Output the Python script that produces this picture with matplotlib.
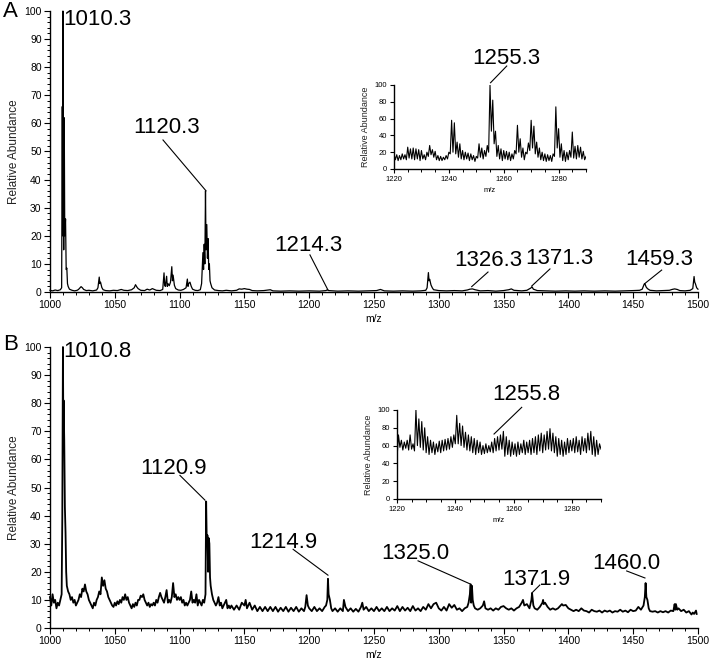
import matplotlib
matplotlib.use("Agg")
import matplotlib.pyplot as plt

plt.rcParams['font.family'] = ['Liberation Sans', 'DejaVu Sans']

# main spectrum A (m/z, relative abundance)
spec_a = [
    (1000, 0.6), (1002, 0.4), (1004, 0.7), (1006, 0.5), (1008, 0.8), (1009, 1.5), (1009.5, 66), (1009.8, 20),
    (1010, 100), (1010.3, 40), (1010.6, 15), (1011, 62), (1011.4, 20), (1012, 26), (1012.5, 8), (1013, 8.5),
    (1013.5, 3), (1014, 2), (1015, 1), (1017, 0.6), (1019, 0.4), (1021, 0.6), (1022, 0.9), (1024, 1.9),
    (1025, 1.5), (1026, 0.9), (1028, 0.5), (1030, 0.6), (1033, 0.4), (1036, 0.7), (1037, 1.5), (1038, 5.3),
    (1038.5, 3), (1039, 3.5), (1040, 1.6), (1041, 0.8), (1043, 0.5), (1046, 0.4), (1049, 0.6), (1052, 0.5),
    (1055, 0.9), (1057, 0.6), (1060, 0.5), (1063, 0.8), (1065, 1.5), (1066, 2.6), (1067, 1.8), (1068, 1.2),
    (1070, 0.6), (1073, 0.5), (1075, 1.0), (1077, 0.7), (1079, 1.2), (1080, 1.0), (1082, 0.6), (1085, 0.5),
    (1087, 0.9), (1088, 6.8), (1088.5, 2.5), (1089, 2), (1090, 5.6), (1090.5, 2), (1091, 3), (1092, 2.2),
    (1093, 3.5), (1094, 9), (1094.5, 4), (1095, 6), (1096, 2.4), (1097, 1.2), (1099, 0.7), (1101, 0.6),
    (1103, 0.9), (1105, 1.5), (1106, 4.6), (1106.5, 2), (1107, 3), (1108, 3.5), (1109, 2), (1110, 1),
    (1112, 0.6), (1114, 0.5), (1116, 0.8), (1117, 3), (1118, 14), (1118.5, 8), (1119, 17), (1119.5, 10),
    (1120, 36), (1120.4, 15), (1121, 24), (1121.5, 12), (1122, 19), (1122.5, 8), (1123, 10), (1123.5, 4),
    (1124, 3), (1125, 1.5), (1127, 0.7), (1130, 0.5), (1133, 0.4), (1136, 0.6), (1140, 0.4), (1144, 0.6),
    (1146, 1.1), (1148, 1.0), (1150, 1.2), (1152, 1.0), (1154, 0.9), (1156, 0.5), (1160, 0.4), (1165, 0.5),
    (1170, 0.8), (1172, 0.4), (1178, 0.3), (1185, 0.4), (1192, 0.3), (1200, 0.4), (1208, 0.3), (1213, 0.5),
    (1214, 0.8), (1215, 0.5), (1222, 0.3), (1230, 0.4), (1238, 0.3), (1245, 0.4), (1252, 0.5), (1255, 0.9),
    (1258, 0.4), (1265, 0.3), (1272, 0.4), (1280, 0.3), (1286, 0.4), (1290, 0.6), (1291, 1.5), (1292, 6.9),
    (1292.5, 4), (1293, 4.5), (1294, 2.5), (1295, 1.5), (1296, 0.8), (1300, 0.5), (1306, 0.4), (1312, 0.5),
    (1318, 0.4), (1322, 0.7), (1324, 1.0), (1326, 1.1), (1328, 0.8), (1332, 0.4), (1338, 0.5), (1344, 0.3),
    (1350, 0.5), (1354, 0.8), (1356, 1.1), (1358, 0.6), (1364, 0.4), (1368, 0.6), (1371, 1.4), (1372, 1.8),
    (1373, 1.0), (1376, 0.5), (1382, 0.4), (1390, 0.3), (1398, 0.4), (1405, 0.3), (1412, 0.4), (1420, 0.3),
    (1428, 0.4), (1436, 0.3), (1444, 0.4), (1450, 0.5), (1455, 0.6), (1457, 1.0), (1458.5, 2.8), (1459, 3.0),
    (1460, 1.8), (1461, 1.2), (1463, 0.6), (1468, 0.4), (1474, 0.5), (1478, 0.6), (1480, 0.9), (1482, 1.1),
    (1484, 0.9), (1486, 0.5), (1490, 0.4), (1494, 0.6), (1496, 1.2), (1497, 5.5), (1497.5, 3.5), (1498, 3),
    (1499, 1.5), (1500, 1.0),
]

# main spectrum B
spec_b = [
    (1000, 11), (1001, 8), (1002, 12), (1003, 9), (1004, 10), (1005, 7), (1006, 9), (1007, 8), (1008, 10),
    (1009, 12), (1009.5, 39), (1010, 100), (1010.3, 70), (1010.5, 81), (1011, 67), (1011.5, 43), (1012, 34),
    (1012.5, 20), (1013, 15), (1014, 13), (1015, 12), (1016, 10), (1017, 11), (1018, 9), (1019, 10), (1020, 8),
    (1021, 9), (1022, 10), (1023, 12), (1024, 11), (1025, 14), (1026, 13), (1027, 15.5), (1028, 13), (1029, 12),
    (1030, 10), (1031, 9), (1032, 8), (1033, 7), (1034, 9), (1035, 8), (1036, 10), (1037, 11), (1038, 13),
    (1039, 12), (1040, 18), (1041, 15), (1042, 17), (1043, 14), (1044, 13), (1045, 11), (1046, 10), (1047, 9),
    (1048, 8), (1049, 7.5), (1050, 9), (1051, 8), (1052, 9.5), (1053, 8.5), (1054, 10), (1055, 9), (1056, 11),
    (1057, 10), (1058, 12), (1059, 10), (1060, 11), (1061, 9), (1062, 8), (1063, 7), (1064, 8.5), (1065, 7.5),
    (1066, 9), (1067, 8), (1068, 10), (1069, 10), (1070, 11.5), (1071, 11), (1072, 12), (1073, 10), (1074, 9),
    (1075, 8), (1076, 9), (1077, 7.5), (1078, 8.5), (1079, 8), (1080, 9), (1081, 8), (1082, 10), (1083, 9),
    (1084, 11), (1085, 12.5), (1086, 11), (1087, 10), (1088, 9), (1089, 11), (1090, 13.5), (1091, 9), (1092, 10),
    (1093, 9), (1094, 11), (1095, 16), (1096, 11), (1097, 12), (1098, 10), (1099, 11), (1100, 10), (1101, 11),
    (1102, 9), (1103, 10), (1104, 8), (1105, 9), (1106, 8), (1107, 9), (1108, 10), (1109, 13), (1110, 9),
    (1111, 10), (1112, 9), (1113, 12), (1114, 8), (1115, 10), (1116, 9), (1117, 8), (1118, 10), (1119, 9),
    (1120, 12), (1120.5, 45), (1121, 30), (1121.5, 33), (1122, 20), (1122.5, 32), (1123, 30), (1123.5, 18),
    (1124, 15), (1125, 12), (1126, 10), (1127, 9), (1128, 8), (1129, 9), (1130, 11), (1131, 8), (1132, 9),
    (1133, 7), (1134, 8), (1135, 9), (1136, 10), (1137, 7), (1138, 8), (1139, 7), (1140, 8),
    (1142, 6.5), (1144, 8), (1146, 6.5), (1148, 9), (1150, 8), (1151, 10), (1152, 7), (1154, 9), (1156, 6.5),
    (1158, 8), (1160, 6), (1162, 7.5), (1164, 6), (1166, 7.5), (1168, 6), (1170, 7.5), (1172, 6), (1174, 7.5),
    (1176, 5.8), (1178, 7.2), (1180, 6), (1182, 7.5), (1184, 5.8), (1186, 7.2), (1188, 6), (1190, 7.5),
    (1192, 5.8), (1194, 7), (1196, 6), (1197, 7.5), (1198, 11.7), (1199, 8), (1200, 7), (1202, 6), (1204, 7.5),
    (1206, 6), (1208, 7), (1210, 6), (1212, 7.5), (1213, 8), (1214, 10), (1214.5, 17.5), (1215, 12), (1216, 10),
    (1217, 7), (1218, 6), (1220, 7), (1222, 5.8), (1224, 7), (1226, 6), (1226.8, 10), (1228, 7.5), (1230, 6),
    (1232, 7), (1234, 5.8), (1236, 6.8), (1238, 5.8), (1240, 7.5), (1241, 9), (1242, 6.5), (1244, 7.5),
    (1246, 6), (1248, 7), (1250, 6), (1252, 7.5), (1254, 6), (1256, 7), (1258, 6), (1260, 7.5), (1262, 6),
    (1264, 7), (1266, 6.2), (1268, 7.8), (1270, 6), (1272, 7.5), (1274, 6.2), (1276, 7.2), (1278, 6),
    (1280, 7.8), (1282, 6.2), (1284, 7), (1286, 6), (1288, 7.5), (1290, 6.5), (1292, 8.5), (1294, 7),
    (1296, 8.5), (1298, 9), (1300, 7), (1302, 6.2), (1304, 7.5), (1306, 6.2), (1308, 8.5), (1310, 7.2),
    (1312, 8.2), (1314, 6.5), (1316, 7), (1318, 6), (1320, 7), (1322, 7.5), (1323, 9), (1324, 12),
    (1324.6, 15.5), (1325, 9), (1325.6, 15), (1326.2, 10), (1327, 8), (1328, 7), (1330, 6.5), (1332, 7),
    (1334, 8), (1335, 9.5), (1336, 7), (1338, 6.5), (1340, 7), (1342, 6.2), (1344, 7), (1346, 6.5),
    (1348, 7.5), (1350, 7.8), (1352, 7), (1354, 6.5), (1356, 7), (1358, 6.2), (1360, 7), (1362, 7.5),
    (1364, 9), (1365, 10), (1366, 8), (1368, 8.5), (1370, 7), (1371.5, 10), (1372, 12.4), (1373, 8),
    (1374, 7), (1376, 6.5), (1378, 7.5), (1380, 9), (1380.5, 10), (1381, 8.5), (1382, 9), (1384, 7.5),
    (1386, 6.5), (1388, 7), (1390, 6.5), (1392, 7), (1394, 8), (1395, 8.5), (1396, 8), (1398, 8.2),
    (1400, 7), (1402, 6.5), (1404, 6), (1406, 6.5), (1408, 6), (1410, 7), (1412, 6.2), (1414, 6),
    (1416, 5.5), (1418, 6.5), (1420, 6), (1422, 5.8), (1424, 6.2), (1426, 5.5), (1428, 6.2), (1430, 5.8),
    (1432, 6.2), (1434, 5.5), (1436, 6), (1438, 5.8), (1440, 6.5), (1442, 5.8), (1444, 6.2), (1446, 5.6),
    (1448, 6.5), (1450, 6), (1452, 6.2), (1454, 7.5), (1456, 6.5), (1458, 8), (1459, 11), (1459.6, 16),
    (1460.2, 11), (1461, 10), (1462, 7), (1463, 6), (1465, 5.8), (1467, 6), (1469, 5.5), (1471, 6),
    (1473, 5.6), (1475, 6), (1477, 5.5), (1479, 6.2), (1481, 6), (1482, 8.5), (1482.5, 6.5), (1483, 8.5),
    (1484, 6.5), (1485, 7), (1487, 6), (1489, 6.5), (1491, 5.5), (1493, 6), (1495, 4.8), (1496, 5.5),
    (1497, 5), (1498.5, 6.2), (1499, 5),
]

# zoomed insets 1220-1290
inset_a = [
    (1220, 18), (1220.5, 11), (1221, 17), (1221.5, 10), (1222, 16), (1222.5, 11), (1223, 18), (1223.5, 12),
    (1224, 17), (1224.5, 11), (1225, 26), (1225.5, 13), (1226, 24), (1226.5, 12), (1227, 25), (1227.5, 11),
    (1228, 24), (1228.5, 12), (1229, 23), (1229.5, 10), (1230, 22), (1230.5, 12), (1231, 17), (1231.5, 11),
    (1232, 20), (1232.5, 15), (1233, 28), (1233.5, 17), (1234, 23), (1234.5, 14), (1235, 21), (1235.5, 11),
    (1236, 16), (1236.5, 10), (1237, 15), (1237.5, 10), (1238, 14), (1238.5, 11), (1239, 16), (1239.5, 12),
    (1240, 20), (1240.5, 18), (1241, 58), (1241.5, 20), (1242, 55), (1242.5, 18), (1243, 32), (1243.5, 14),
    (1244, 30), (1244.5, 12), (1245, 22), (1245.5, 11), (1246, 20), (1246.5, 12), (1247, 19), (1247.5, 10),
    (1248, 18), (1248.5, 11), (1249, 16), (1249.5, 9), (1250, 15), (1250.5, 13), (1251, 30), (1251.5, 14),
    (1252, 25), (1252.5, 12), (1253, 22), (1253.5, 15), (1254, 28), (1254.5, 20), (1255, 100), (1255.5, 45),
    (1256, 82), (1256.5, 30), (1257, 45), (1257.5, 15), (1258, 28), (1258.5, 12), (1259, 24), (1259.5, 10),
    (1260, 22), (1260.5, 12), (1261, 21), (1261.5, 11), (1262, 20), (1262.5, 10), (1263, 18), (1263.5, 12),
    (1264, 22), (1264.5, 18), (1265, 52), (1265.5, 20), (1266, 36), (1266.5, 14), (1267, 25), (1267.5, 11),
    (1268, 20), (1268.5, 18), (1269, 31), (1269.5, 22), (1270, 58), (1270.5, 25), (1271, 51), (1271.5, 18),
    (1272, 32), (1272.5, 14), (1273, 25), (1273.5, 11), (1274, 20), (1274.5, 10), (1275, 18), (1275.5, 9),
    (1276, 17), (1276.5, 10), (1277, 16), (1277.5, 9), (1278, 18), (1278.5, 15), (1279, 74), (1279.5, 25),
    (1280, 48), (1280.5, 14), (1281, 30), (1281.5, 10), (1282, 22), (1282.5, 9), (1283, 20), (1283.5, 11),
    (1284, 22), (1284.5, 14), (1285, 44), (1285.5, 13), (1286, 27), (1286.5, 12), (1287, 28), (1287.5, 14),
    (1288, 26), (1288.5, 12), (1289, 21), (1289.5, 11), (1290, 15),
]

inset_b = [
    (1220, 45), (1220.5, 72), (1221, 58), (1221.5, 66), (1222, 55), (1222.5, 64), (1223, 57), (1223.5, 66),
    (1224, 55), (1224.5, 72), (1225, 56), (1225.5, 62), (1226, 54), (1226.5, 100), (1227, 60), (1227.5, 90),
    (1228, 58), (1228.5, 87), (1229, 55), (1229.5, 80), (1230, 52), (1230.5, 70), (1231, 50), (1231.5, 66),
    (1232, 52), (1232.5, 64), (1233, 50), (1233.5, 62), (1234, 53), (1234.5, 65), (1235, 52), (1235.5, 66),
    (1236, 54), (1236.5, 67), (1237, 55), (1237.5, 68), (1238, 56), (1238.5, 70), (1239, 58), (1239.5, 72),
    (1240, 62), (1240.5, 94), (1241, 62), (1241.5, 85), (1242, 60), (1242.5, 82), (1243, 58), (1243.5, 75),
    (1244, 55), (1244.5, 72), (1245, 54), (1245.5, 70), (1246, 52), (1246.5, 68), (1247, 50), (1247.5, 66),
    (1248, 52), (1248.5, 64), (1249, 50), (1249.5, 60), (1250, 51), (1250.5, 62), (1251, 52), (1251.5, 60),
    (1252, 53), (1252.5, 64), (1253, 52), (1253.5, 68), (1254, 54), (1254.5, 70), (1255, 55), (1255.5, 72),
    (1256, 56), (1256.5, 76), (1257, 48), (1257.5, 70), (1258, 50), (1258.5, 66), (1259, 48), (1259.5, 64),
    (1260, 50), (1260.5, 62), (1261, 48), (1261.5, 64), (1262, 50), (1262.5, 62), (1263, 52), (1263.5, 66),
    (1264, 50), (1264.5, 64), (1265, 52), (1265.5, 66), (1266, 50), (1266.5, 68), (1267, 52), (1267.5, 70),
    (1268, 50), (1268.5, 72), (1269, 54), (1269.5, 74), (1270, 52), (1270.5, 72), (1271, 55), (1271.5, 76),
    (1272, 56), (1272.5, 79), (1273, 54), (1273.5, 74), (1274, 52), (1274.5, 70), (1275, 48), (1275.5, 68),
    (1276, 50), (1276.5, 66), (1277, 48), (1277.5, 64), (1278, 50), (1278.5, 68), (1279, 52), (1279.5, 66),
    (1280, 54), (1280.5, 68), (1281, 52), (1281.5, 70), (1282, 53), (1282.5, 66), (1283, 50), (1283.5, 70),
    (1284, 54), (1284.5, 68), (1285, 52), (1285.5, 74), (1286, 55), (1286.5, 76), (1287, 50), (1287.5, 70),
    (1288, 48), (1288.5, 66), (1289, 50), (1289.5, 62), (1290, 56),
]

# peak labels: text, text position, leader line start, leader line end (None = no line)
labels_a = [
    ("1010.3", (1010, 98), None, None),
    ("1120.3", (1089.9, 59.4), (1087.2, 54.1), (1120.4, 36)),
    ("1214.3", (1199.5, 17.4), (1200.6, 13.2), (1214.5, 0.7)),
    ("1326.3", (1338.3, 12.1), (1338, 7.1), (1325.4, 1.9)),
    ("1371.3", (1392.8, 12.8), (1385.8, 8.2), (1371.7, 2.1)),
    ("1459.3", (1470.3, 12.4), (1472, 7.8), (1459, 3)),
]
labels_b = [
    ("1010.8", (1010, 99.4), None, None),
    ("1120.9", (1095.3, 57.5), (1100.3, 54.3), (1119.6, 45.5)),
    ("1214.9", (1180.2, 31.2), (1187.6, 28), (1214.5, 18.8)),
    ("1325.0", (1281.6, 27.3), (1284, 23.9), (1324.6, 15.6)),
    ("1371.9", (1375.4, 18.1), (1378, 15.3), (1371.7, 12.4)),
    ("1460.0", (1444.8, 23.8), (1445, 20.3), (1459.1, 17.8)),
]
label_ia = ("1255.3", (1261.0, 134.5), (1261.1, 122.6), (1255.2, 102.7))
label_ib = ("1255.8", (1264.3, 119.7), (1262.8, 103), (1253.3, 73))


def style_axes(ax, xlim, xmaj, xmin, ymaj, ymin, fs_tick, fs_lab, ylabpad):
    ax.set_xlim(*xlim)
    ax.set_ylim(0, 100)
    ax.set_xticks(xmaj)
    ax.set_xticks(xmin, minor=True)
    ax.set_yticks(ymaj)
    if ymin is not None:
        ax.set_yticks(ymin, minor=True)
    ax.spines['top'].set_visible(False)
    ax.spines['right'].set_visible(False)
    for s in ['left', 'bottom']:
        ax.spines[s].set_linewidth(1.0)
    ax.tick_params(which='major', length=4, width=0.8, labelsize=fs_tick, pad=2)
    ax.tick_params(which='minor', length=2.5, width=0.7)
    ax.set_xlabel('m/z', fontsize=fs_lab, labelpad=3)
    ax.set_ylabel('Relative Abundance', fontsize=fs_lab + 1, labelpad=ylabpad, color='#222222')


def put_label(ax, lab, fs):
    text, tpos, l0, l1 = lab
    if l0 is None:
        ax.text(tpos[0], tpos[1], text, fontsize=fs, ha='left', va='center_baseline', clip_on=False)
    else:
        ax.text(tpos[0], tpos[1], text, fontsize=fs, ha='center', va='center_baseline', clip_on=False)
        ax.plot([l0[0], l1[0]], [l0[1], l1[1]], color='black', lw=0.8, clip_on=False)


fig = plt.figure(figsize=(7.13, 6.63), dpi=100)

ax_a = fig.add_axes([0.0701, 0.5596, 0.9088, 0.4238])
ax_b = fig.add_axes([0.0701, 0.0528, 0.9088, 0.4238])
in_a = fig.add_axes([0.5526, 0.7451, 0.2693, 0.1267])
in_b = fig.add_axes([0.5568, 0.2474, 0.2861, 0.1342])

for ax, spec, labs, lw in [(ax_a, spec_a, labels_a, 0.9), (ax_b, spec_b, labels_b, 1.3)]:
    mz = [p[0] for p in spec]
    ab = [p[1] for p in spec]
    ax.plot(mz, ab, color='black', lw=lw, clip_on=False)
    style_axes(ax, (1000, 1500), range(1000, 1501, 50), range(1000, 1501, 10),
               range(0, 101, 10), range(0, 101, 2), 7.5, 7.5, 3)
    for lab in labs:
        put_label(ax, lab, 16)

for ax, spec, lab in [(in_a, inset_a, label_ia), (in_b, inset_b, label_ib)]:
    ax.patch.set_alpha(0)
    mz = [p[0] for p in spec]
    ab = [p[1] for p in spec]
    ax.plot(mz, ab, color='black', lw=0.8)
    style_axes(ax, (1220, 1290), range(1220, 1291, 20), range(1220, 1291, 5),
               range(0, 101, 20), None, 5.5, 5.5, 3)
    ax.tick_params(which='major', length=3)
    ax.tick_params(which='minor', length=2)
    put_label(ax, lab, 16)

fig.text(0.004, 0.982, 'A', fontsize=16, ha='left', va='center')
fig.text(0.004, 0.480, 'B', fontsize=16, ha='left', va='center')

fig.savefig('out.png', dpi=100)
